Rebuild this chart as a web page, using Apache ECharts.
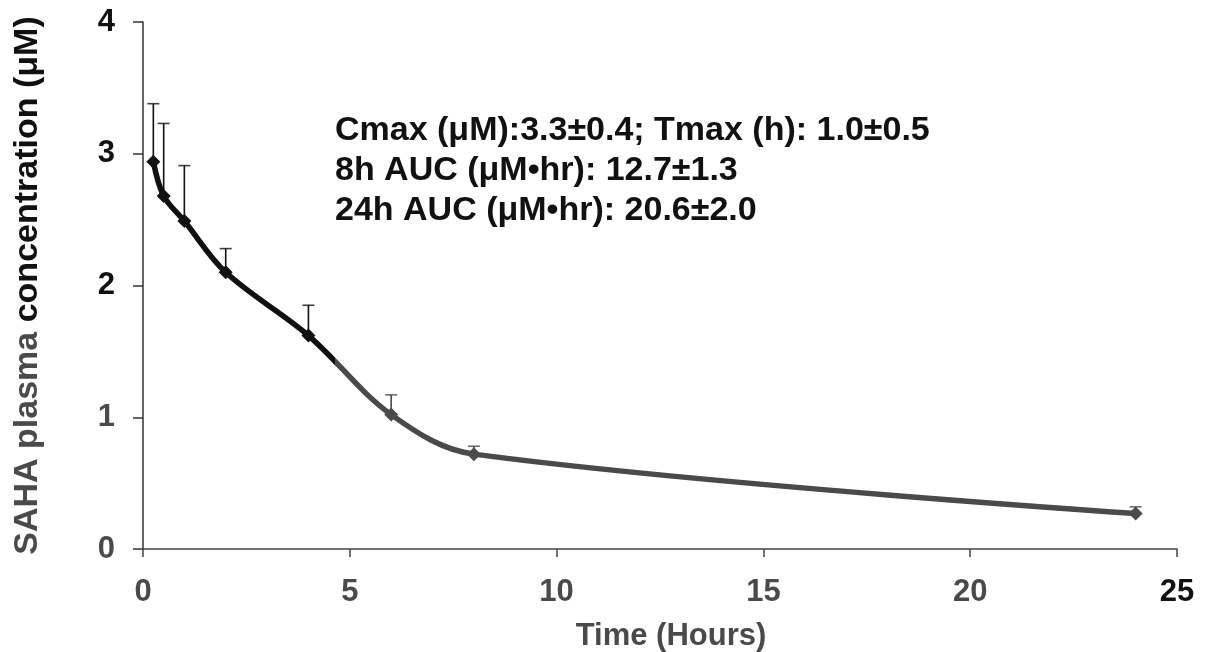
<!DOCTYPE html>
<html>
<head>
<meta charset="utf-8">
<script src="https://cdn.jsdelivr.net/npm/echarts@6/dist/echarts.min.js"></script>
<style>
html,body{margin:0;padding:0;background:#fff;}
#chart{width:1215px;height:652px;}
</style>
</head>
<body>
<div id="chart"></div>
<script>
// Data
var timeHours = [0.25, 0.5, 1, 2, 4, 6, 8, 24];
var meanConc  = [2.94, 2.68, 2.49, 2.10, 1.62, 1.02, 0.72, 0.27];
var errUpper  = [0.44, 0.55, 0.42, 0.18, 0.23, 0.15, 0.06, 0.05];
var xTicks = [0, 5, 10, 15, 20, 25];
var yTicks = [0, 1, 2, 3, 4];
var annotationLines = [
  'Cmax (\u03bcM):3.3\u00b10.4; Tmax (h): 1.0\u00b10.5',
  '8h AUC (\u03bcM\u2022hr): 12.7\u00b11.3',
  '24h AUC (\u03bcM\u2022hr): 20.6\u00b12.0'
];
var xTitle = 'Time (Hours)';
var yTitleA = 'SAHA plasma ';
var yTitleB = 'concentration (\u03bcM)';

var DARK = '#111111';
var GREY = '#4a4a4a';
var SPLIT = 4.68;
var FONT = '"Liberation Sans", Arial, sans-serif';

function colAt(t) { return t < SPLIT ? DARK : GREY; }

var lineData = timeHours.map(function (t, i) {
  return { value: [t, meanConc[i]], itemStyle: { color: colAt(t) } };
});
var tMin = timeHours[0], tMax = timeHours[timeHours.length - 1];
var frac = (SPLIT - tMin) / (tMax - tMin);

var series = [
  {
    type: 'line', data: lineData, smooth: 0.35,
    symbol: 'diamond', symbolSize: 14,
    lineStyle: {
      width: 5.5,
      color: new echarts.graphic.LinearGradient(0, 0, 1, 0, [
        { offset: 0, color: DARK },
        { offset: frac, color: DARK },
        { offset: frac, color: GREY },
        { offset: 1, color: GREY }
      ])
    },
    z: 5
  }
];
// Error bars: a stem (line) plus a cap (flat rect symbol) per point
timeHours.forEach(function (t, i) {
  var col = colAt(t);
  var top = meanConc[i] + errUpper[i];
  series.push({
    type: 'line', data: [[t, meanConc[i]], [t, top]],
    symbol: 'none', silent: true, z: 3,
    lineStyle: { color: col, width: 1.6 }
  });
  series.push({
    type: 'scatter', data: [[t, top]],
    symbol: 'rect', symbolSize: [12, 1.6], silent: true, z: 3,
    itemStyle: { color: col }
  });
});

var chart = echarts.init(document.getElementById('chart'));
var option = {
  backgroundColor: '#ffffff',
  animation: false,
  grid: { left: 143, right: 38, top: 22, bottom: 103, containLabel: false, outerBoundsMode: 'none' },
  xAxis: {
    type: 'value', min: 0, max: 25, interval: 5,
    name: xTitle, nameLocation: 'middle', nameGap: 72,
    nameTextStyle: { fontFamily: FONT, fontWeight: 'bold', fontSize: 31, color: GREY, padding: [0, 0, 0, 22] },
    axisLine: { show: true, lineStyle: { color: '#444', width: 1.5 } },
    axisTick: { show: true, inside: false, length: 8, lineStyle: { color: '#444', width: 1.5 } },
    axisLabel: {
      margin: 28, fontFamily: FONT, fontWeight: 'bold', fontSize: 31,
      color: function (v) { return Number(v) === 25 ? DARK : GREY; }
    },
    splitLine: { show: false }
  },
  yAxis: {
    type: 'value', min: 0, max: 4, interval: 1,
    name: '{g|' + yTitleA + '}{b|' + yTitleB + '}',
    nameLocation: 'middle', nameGap: 98, nameRotate: 90,
    nameTextStyle: {
      fontFamily: FONT, fontWeight: 'bold', fontSize: 34,
      rich: {
        g: { fontFamily: FONT, fontWeight: 'bold', fontSize: 34, color: GREY },
        b: { fontFamily: FONT, fontWeight: 'bold', fontSize: 34, color: DARK }
      }
    },
    axisLine: { show: true, lineStyle: { color: '#333', width: 1.5 } },
    axisTick: { show: true, inside: false, length: 10, lineStyle: { color: '#333', width: 1.5 } },
    axisLabel: {
      margin: 28, fontFamily: FONT, fontWeight: 'bold', fontSize: 31,
      color: function (v) { return Number(v) >= 2 ? DARK : GREY; }
    },
    splitLine: { show: false }
  },
  series: series,
  graphic: annotationLines.map(function (txt, i) {
    return {
      type: 'text', left: 335, top: 114 + i * 40,
      style: { text: txt, fontFamily: FONT, fontWeight: 'bold', fontSize: 34, fill: DARK }
    };
  })
};
chart.setOption(option);
</script>
</body>
</html>
